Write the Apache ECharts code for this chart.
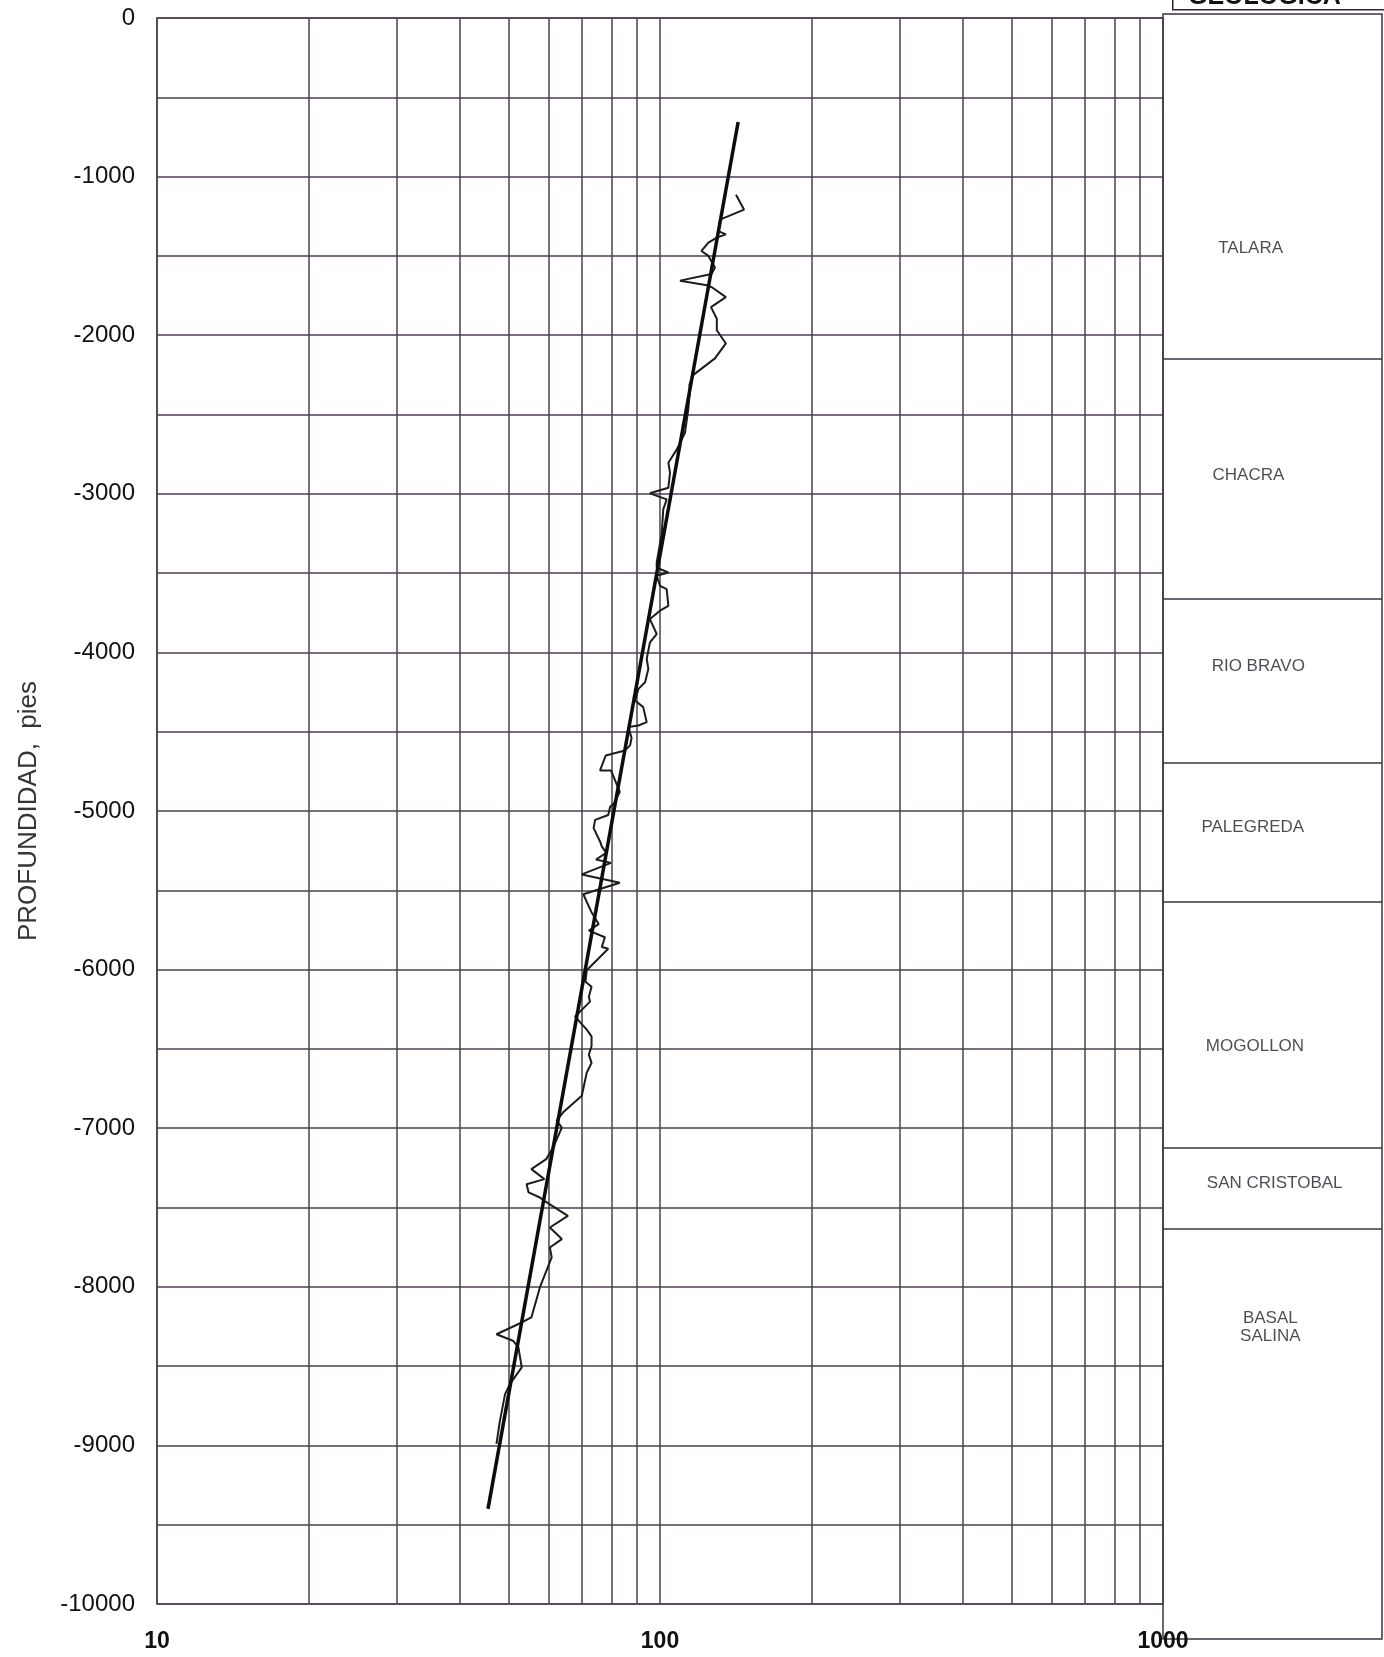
<!DOCTYPE html>
<html lang="es">
<head>
<meta charset="UTF-8">
<title>Profundidad vs registro</title>
<script src="https://cdn.jsdelivr.net/npm/echarts@6.0.0/dist/echarts.min.js"></script>
<style>
    html, body { margin: 0; padding: 0; background: #fff; }
    #chart { width: 1384px; height: 1657px; }
</style>
</head>
<body>
<div id="chart"></div>
<script>
// registro (profundidad en pies, valor en escala log)
var logDepth = [-1114, -1208, -1271, -1344, -1364, -1385, -1416, -1469, -1500, -1573,
    -1614, -1656, -1687, -1698, -1760, -1823, -1896, -1969, -2052, -2146,
    -2250, -2313, -2343, -2469, -2616, -2720, -2804, -2867, -2962, -2997,
    -3035, -3098, -3250, -3433, -3465, -3496, -3517, -3580, -3601, -3706,
    -3737, -3790, -3884, -3937, -4041, -4104, -4188, -4230, -4303, -4345,
    -4440, -4461, -4471, -4540, -4586, -4618, -4650, -4744, -4744, -4879,
    -4952, -4973, -5025, -5056, -5108, -5192, -5223, -5264, -5306, -5327,
    -5400, -5452, -5525, -5639, -5713, -5754, -5796, -5858, -5869, -6004,
    -6077, -6108, -6171, -6202, -6254, -6296, -6379, -6421, -6483, -6536,
    -6588, -6650, -6796, -6900, -6952, -6996, -7122, -7195, -7258, -7321,
    -7353, -7405, -7437, -7458, -7553, -7626, -7699, -7752, -7815, -8004,
    -8193, -8225, -8299, -8340, -8382, -8508, -8614, -8677, -8855, -8991];
var logValue = [141.6, 146.9, 131.6, 130.6, 135.2, 129.7, 124.8, 120.9, 124.8, 128.6,
    126.6, 109.6, 124.8, 126.8, 135.2, 126.3, 129.7, 129.7, 135.2, 128.6,
    116.5, 114.4, 114.7, 113.8, 112.1, 108.0, 103.9, 104.7, 103.9, 95.5,
    103.1, 101.5, 100.8, 98.5, 98.5, 103.9, 98.5, 100.0, 103.1, 103.9,
    100.0, 95.5, 98.5, 95.5, 94.1, 94.8, 93.4, 90.6, 89.2, 92.6,
    94.1, 90.6, 86.5, 87.8, 87.2, 85.2, 78.0, 76.0, 79.9, 83.2,
    81.0, 79.6, 78.9, 74.3, 73.8, 76.0, 76.6, 78.2, 74.6, 79.9,
    69.9, 83.2, 70.4, 73.1, 75.5, 72.2, 77.7, 76.6, 78.9, 71.5,
    71.1, 73.1, 72.2, 72.6, 69.9, 67.8, 71.5, 73.1, 73.1, 72.2,
    73.1, 71.5, 69.9, 64.2, 62.3, 63.8, 61.3, 59.4, 55.5, 58.9,
    54.3, 54.8, 57.7, 58.9, 65.6, 60.4, 63.8, 60.4, 60.9, 57.7,
    55.5, 53.1, 47.3, 51.0, 52.3, 53.1, 50.3, 49.2, 48.0, 47.3];

// tendencia (recta en escala semilog)
var trendDepth = [-656, -9400];
var trendValue = [143, 45.5];

// lineas menores del eje log
var minorX = [20, 30, 40, 50, 60, 70, 80, 90, 200, 300, 400, 500, 600, 700, 800, 900];

// columna geologica
var formations = ['TALARA', 'CHACRA', 'RIO BRAVO', 'PALEGREDA', 'MOGOLLON', 'SAN CRISTOBAL', 'BASAL\nSALINA'];
var formationBase = [-2150, -3663, -4697, -5574, -7125, -7636];
var labelDepth = [-1450, -2881, -4086, -5101, -6482, -7346, -8253];
var labelX = [0.40, 0.39, 0.435, 0.41, 0.42, 0.51, 0.49];

var gridColor = '#4e4052';

var chart = echarts.init(document.getElementById('chart'));

var logData = [];
for (var i = 0; i < logDepth.length; i++) {
    logData.push([logValue[i], logDepth[i]]);
}
var trendData = [];
for (var i = 0; i < trendDepth.length; i++) {
    trendData.push([trendValue[i], trendDepth[i]]);
}
var labelData = [];
for (var i = 0; i < formations.length; i++) {
    labelData.push({ name: formations[i], value: [labelX[i], labelDepth[i]] });
}

function plain(v) { return String(Math.round(v)); }

var option = {
    backgroundColor: '#fff',
    animation: false,
    grid: [
        { left: 157, top: 18, width: 1006, height: 1586, show: true, borderColor: gridColor, borderWidth: 1.5 },
        { left: 1163, top: 14, width: 219, height: 1625, show: true, borderColor: '#3d3340', borderWidth: 1.5 }
    ],
    xAxis: [
        {
            type: 'log', logBase: 10, min: 10, max: 1000, gridIndex: 0,
            axisLine: { show: false },
            axisTick: { show: false },
            axisLabel: { fontSize: 23, fontWeight: 'bold', color: '#111', margin: 26, fontFamily: 'Liberation Sans, Arial', formatter: plain },
            splitLine: { show: true, lineStyle: { color: gridColor, width: 1.5 } }
        },
        { type: 'value', min: 0, max: 1, gridIndex: 1, show: false }
    ],
    yAxis: [
        {
            type: 'value', min: -10000, max: 0, interval: 1000, gridIndex: 0,
            name: 'PROFUNDIDAD,  pies',
            nameLocation: 'middle',
            nameGap: 115,
            nameTextStyle: { fontSize: 26, color: '#353535', fontFamily: 'Liberation Sans, Arial' },
            axisLine: { show: false },
            axisTick: { show: false },
            axisLabel: { fontSize: 24, color: '#111', margin: 22, fontFamily: 'Liberation Sans, Arial', formatter: plain },
            splitLine: { show: true, lineStyle: { color: gridColor, width: 1.5 } },
            minorTick: { show: false, splitNumber: 2 },
            minorSplitLine: { show: true, lineStyle: { color: gridColor, width: 1.5 } }
        },
        { type: 'value', min: -10221, max: 25, gridIndex: 1, show: false }
    ],
    graphic: [
        {
            type: 'rect', left: 1172, top: -40, z: 10,
            shape: { width: 240, height: 49 },
            style: { fill: '#fff', stroke: '#2f2630', lineWidth: 1.5 }
        },
        {
            type: 'text', left: 1188, top: -15, z: 11,
            style: { text: 'GEOLOGICA', font: 'bold 25px "Liberation Sans", Arial', fill: '#111' }
        }
    ],
    series: [
        {
            name: 'registro',
            type: 'line',
            xAxisIndex: 0, yAxisIndex: 0,
            data: logData,
            showSymbol: false,
            smooth: false,
            lineStyle: { color: '#1c1c1c', width: 2 },
            z: 3
        },
        {
            name: 'tendencia',
            type: 'line',
            xAxisIndex: 0, yAxisIndex: 0,
            data: trendData,
            showSymbol: false,
            lineStyle: { color: '#0d0d0d', width: 3.5 },
            z: 4,
            markLine: {
                silent: true,
                symbol: 'none',
                label: { show: false },
                lineStyle: { color: gridColor, width: 1.5, type: 'solid' },
                data: minorX.map(function (v) { return { xAxis: v }; }),
                z: 1
            }
        },
        {
            name: 'geologia',
            type: 'scatter',
            xAxisIndex: 1, yAxisIndex: 1,
            symbolSize: 0,
            data: labelData,
            label: {
                show: true,
                position: 'inside',
                formatter: '{b}',
                fontSize: 17,
                lineHeight: 18,
                color: '#231c26',
                fontFamily: 'Liberation Sans, Arial'
            },
            markLine: {
                silent: true,
                symbol: 'none',
                label: { show: false },
                lineStyle: { color: '#3d3340', width: 1.5, type: 'solid' },
                data: formationBase.map(function (d) { return { yAxis: d }; })
            }
        }
    ]
};

chart.setOption(option);
</script>
</body>
</html>
